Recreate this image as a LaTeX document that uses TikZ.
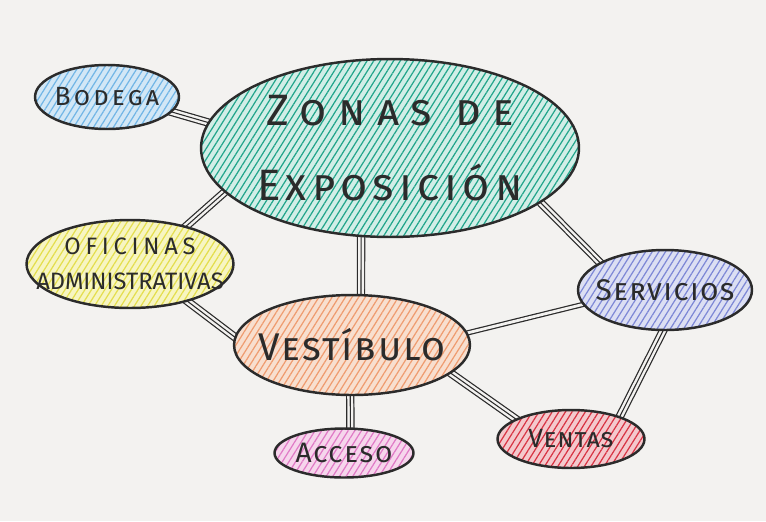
\documentclass[tikz,border=0pt]{standalone}
\usepackage{fontspec}
\setmainfont{Fira Sans}
\usetikzlibrary{shapes.geometric,patterns.meta,backgrounds}
\definecolor{paper}{HTML}{F3F2F0}
\definecolor{ink}{HTML}{2B2B2B}
\definecolor{bodC}{HTML}{D2E7F6}\definecolor{bodH}{HTML}{72B6E6}
\definecolor{zonC}{HTML}{D2EEE7}\definecolor{zonH}{HTML}{22A58B}
\definecolor{ofiC}{HTML}{F7F5C2}\definecolor{ofiH}{HTML}{E4DE4E}
\definecolor{serC}{HTML}{DCDFF3}\definecolor{serH}{HTML}{7E88D6}
\definecolor{vesC}{HTML}{F8DFCF}\definecolor{vesH}{HTML}{EF9C70}
\definecolor{accC}{HTML}{F6D6EC}\definecolor{accH}{HTML}{E07AC6}
\definecolor{venC}{HTML}{F4C9CD}\definecolor{venH}{HTML}{D83444}
\begin{document}
\begin{tikzpicture}[x=0.02cm,y=-0.02cm,
  bub/.style n args={2}{ellipse, draw=ink, line width=1.4pt,
    inner xsep=-14pt, inner ysep=0pt,
    align=center, text=ink, preaction={fill=#1},
    pattern={Lines[angle=58,distance=3.2pt,line width=0.7pt]}, pattern color=#2},
  tri/.style={draw=ink, line width=0.6pt, shorten <=-4pt, shorten >=-4pt,
    preaction={draw=paper, line width=3.4pt, shorten <=-4pt, shorten >=-4pt,
      preaction={draw=ink, line width=4.8pt, shorten <=-4pt, shorten >=-4pt}}},
  dbl/.style={draw=ink, line width=0.7pt, double=paper, double distance=1.6pt,
    shorten <=-4pt, shorten >=-4pt}]
\useasboundingbox (0,0) rectangle (766,521);

\node[bub={bodC}{bodH}, minimum width=2.88cm, minimum height=1.28cm,
  font={\fontsize{15}{15}\selectfont\scshape\addfontfeature{LetterSpace=12}}] (bod) at (107,97)
  {Bodega};
\node[bub={zonC}{zonH}, minimum width=7.56cm, minimum height=3.56cm,
  font={\fontsize{25}{43}\selectfont\scshape}] (zon) at (390,148)
  {{\addfontfeature{LetterSpace=26}Zonas de}\\{\addfontfeature{LetterSpace=12}Exposición}};
\node[bub={ofiC}{ofiH}, minimum width=4.14cm, minimum height=1.76cm,
  font={\fontsize{13.5}{20}\selectfont}] (ofi) at (130,264)
  {{\addfontfeature{LetterSpace=20}OFICINAS}\\ADMINISTRATIVAS};
\node[bub={serC}{serH}, minimum width=3.48cm, minimum height=1.6cm,
  font={\fontsize{17}{17}\selectfont\scshape\addfontfeature{LetterSpace=5}}] (ser) at (665,290)
  {Servicios};
\node[bub={vesC}{vesH}, minimum width=4.72cm, minimum height=2.0cm,
  font={\fontsize{22}{22}\selectfont\scshape\addfontfeature{LetterSpace=5}}] (ves) at (352,345)
  {Vestíbulo};
\node[bub={accC}{accH}, minimum width=2.78cm, minimum height=0.98cm,
  font={\fontsize{16}{16}\selectfont\scshape\addfontfeature{LetterSpace=6}}] (acc) at (344,453)
  {Acceso};
\node[bub={venC}{venH}, minimum width=2.94cm, minimum height=1.16cm,
  font={\fontsize{15}{15}\selectfont\scshape\addfontfeature{LetterSpace=3}}] (ven) at (571,439)
  {Ventas};

\begin{pgfonlayer}{background}
\fill[paper] (0,0) rectangle (766,521);
\draw[tri] (bod.347) -- (zon.172);
\draw[tri] (zon.195) -- (ofi.34);
\draw[tri] (zon.252) -- (ves.80);
\draw[tri] (ofi.327) -- (ves.176);
\draw[tri] (zon.340) -- (ser.157);
\draw[dbl] (ves.6) -- (ser.190);
\draw[tri] (ves.344) -- (ven.160);
\draw[tri] (ser.267) -- (ven.25);
\draw[tri] (ves.268) -- (acc.76);
\end{pgfonlayer}
\end{tikzpicture}
\end{document}
